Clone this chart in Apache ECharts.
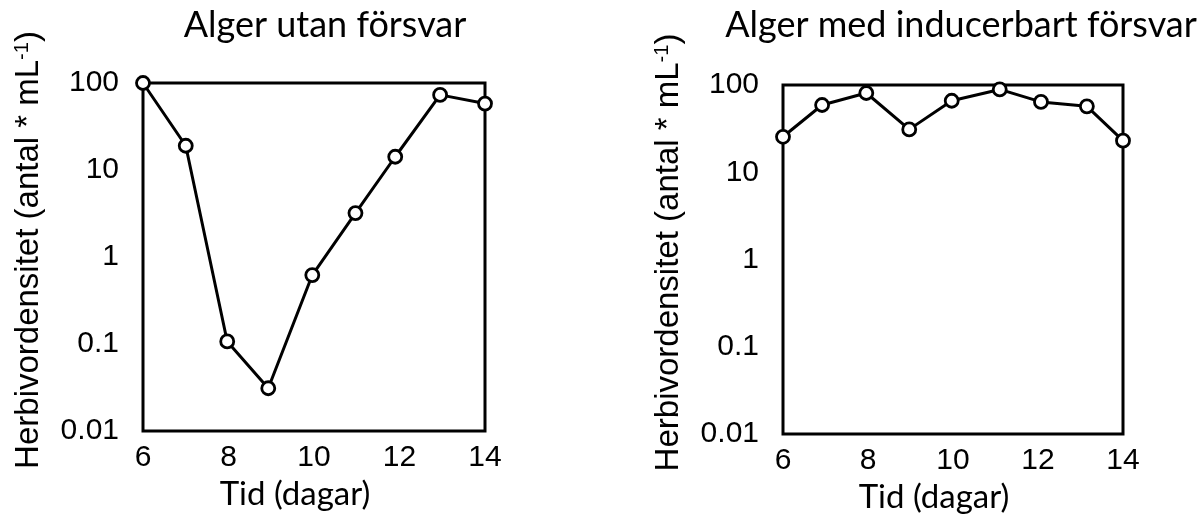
<!DOCTYPE html>
<html>
<head>
<meta charset="utf-8">
<script src="https://cdn.jsdelivr.net/npm/echarts@6/dist/echarts.min.js"></script>
<style>html,body{margin:0;padding:0;background:#fff}#c{width:1200px;height:522px}</style>
</head>
<body>
<div id="c"></div>
<script>
// Data
const titles = ['Alger utan försvar', 'Alger med inducerbart försvar'];
const xTicks = [6, 8, 10, 12, 14];
const yTickLabels = ['0.01', '0.1', '1', '10', '100'];
const daysLeft = [6, 7, 7.97, 8.93, 9.96, 10.97, 11.9, 12.95, 14];
const valuesLeft = [100, 19, 0.107, 0.031, 0.62, 3.2, 14.2, 73, 58];
const daysRight = [6, 6.92, 7.96, 8.97, 9.97, 11.1, 12.07, 13.15, 14];
const valuesRight = [25.5, 59, 81, 31, 66, 89, 64, 57, 23];
const xName = 'Tid (dagar)';
const yName = 'Herbivordensitet (antal * mL{sup|-1})';

const SANS = '"Liberation Sans", Arial, Helvetica, sans-serif';
const chart = echarts.init(document.getElementById('c'), null, {renderer: 'canvas'});
const grids = [
  {left: 143, top: 83, width: 342, height: 348},
  {left: 783, top: 85, width: 340, height: 349}
];
const pair = (xs, ys) => xs.map((x, i) => [x, ys[i]]);

function xAxis(idx) {
  return {
    gridIndex: idx, type: 'value', min: 6, max: 14, interval: 2,
    axisLine: {show: false}, axisTick: {show: false}, splitLine: {show: false},
    axisLabel: {color: '#000', fontFamily: SANS, fontSize: 30, margin: 12,
      formatter: v => xTicks.includes(v) ? String(v) : ''},
    name: xName, nameLocation: 'middle', nameGap: 46,
    nameTextStyle: {color: '#000', fontFamily: 'Lato', fontSize: 33, padding: [0, 38, 0, 0]}
  };
}
function yAxis(idx) {
  return {
    gridIndex: idx, type: 'log', logBase: 10, min: 0.01, max: 100,
    axisLine: {show: false}, axisTick: {show: false}, splitLine: {show: false},
    axisLabel: {color: '#000', fontFamily: SANS, fontSize: 30, margin: 24,
      formatter: v => {
        const e = Math.round(Math.log10(v)) + 2;
        return yTickLabels[e] !== undefined ? yTickLabels[e] : '';
      }},
    name: yName, nameLocation: 'middle', nameGap: 98,
    nameTextStyle: {color: '#000', fontFamily: SANS, fontSize: 33, padding: [0, 0, 0, 14],
      rich: {sup: {fontFamily: SANS, fontSize: 20, verticalAlign: 'top', color: '#000'}}}
  };
}
function series(idx, xs, ys) {
  return {
    type: 'line', xAxisIndex: idx, yAxisIndex: idx, data: pair(xs, ys),
    symbol: 'circle', symbolSize: 13, showAllSymbol: true, clip: false,
    lineStyle: {color: '#000', width: 3},
    itemStyle: {color: '#fff', borderColor: '#000', borderWidth: 2.8},
    z: 5
  };
}

chart.setOption({
  animation: false,
  backgroundColor: '#fff',
  title: [
    {text: titles[0], left: 320, top: 2, textAlign: 'center',
     textStyle: {fontFamily: 'Lato', fontSize: 36, fontWeight: 'normal', color: '#000'}},
    {text: titles[1], left: 956, top: 2, textAlign: 'center',
     textStyle: {fontFamily: 'Lato', fontSize: 36, fontWeight: 'normal', color: '#000'}}
  ],
  grid: grids.map(g => Object.assign({show: true, borderColor: '#000', borderWidth: 3, backgroundColor: 'transparent'}, g)),
  xAxis: [xAxis(0), xAxis(1)],
  yAxis: [yAxis(0), yAxis(1)],
  series: [series(0, daysLeft, valuesLeft), series(1, daysRight, valuesRight)]
});
</script>
</body>
</html>
